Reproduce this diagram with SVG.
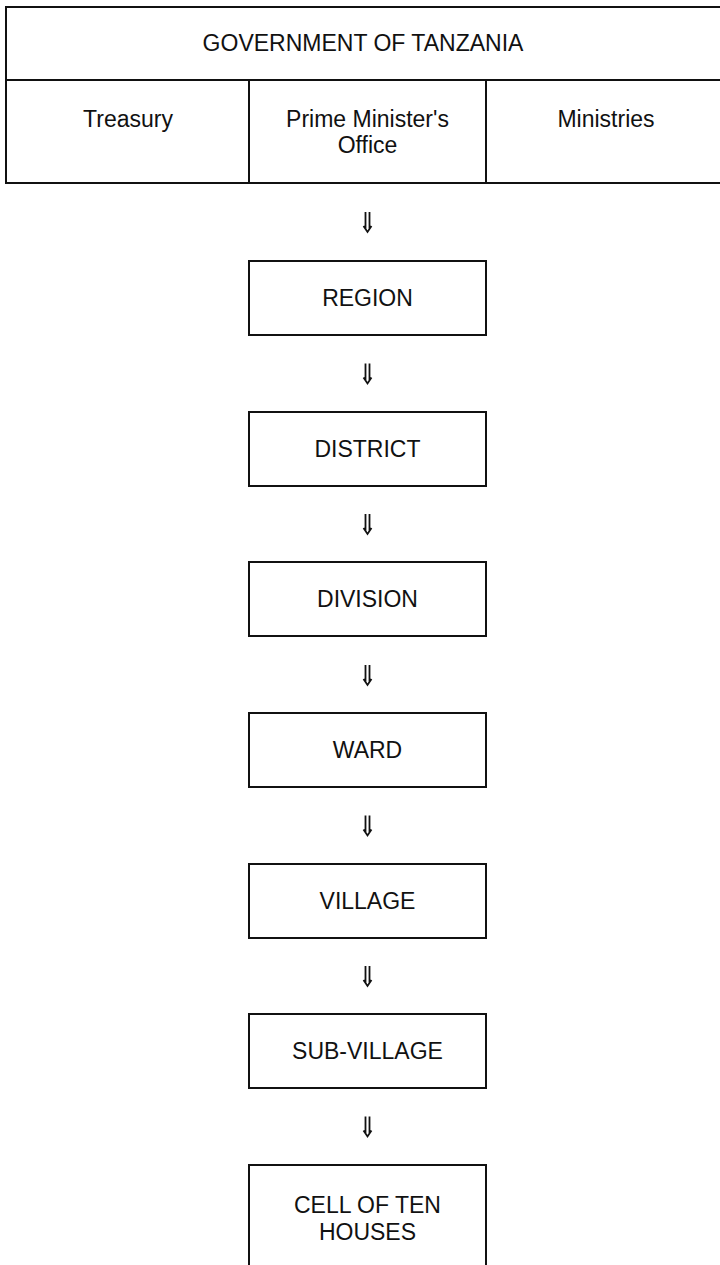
<svg xmlns="http://www.w3.org/2000/svg" width="720" height="1265" viewBox="0 0 720 1265">
<style>
.box{fill:#fff;stroke:#111;stroke-width:2}
.ln{fill:none;stroke:#111;stroke-width:2}
.t{font-family:"Liberation Sans",Arial,Helvetica,sans-serif;font-size:23px;fill:#111;text-anchor:middle}
.arr{fill:none;stroke:#111;stroke-width:1.8;stroke-linecap:butt;stroke-linejoin:miter}
</style>
<rect width="720" height="1265" fill="#fff"/>
<g id="government">
<rect class="box" x="6" y="7" width="730" height="176"/>
<line class="ln" x1="6" y1="80" x2="720" y2="80"/>
<line class="ln" x1="249" y1="80" x2="249" y2="183"/>
<line class="ln" x1="486" y1="80" x2="486" y2="183"/>
<text class="t" x="363" y="51">GOVERNMENT OF TANZANIA</text>
</g>
<g id="treasury"><text class="t" x="128" y="127">Treasury</text></g>
<g id="pmo"><text class="t" x="367.5" y="127">Prime Minister's</text><text class="t" x="367.5" y="153">Office</text></g>
<g id="ministries"><text class="t" x="606" y="127">Ministries</text></g>
<g id="region"><rect class="box" x="249" y="261" width="237" height="74"/><text class="t" x="367.5" y="306">REGION</text></g>
<g id="district"><rect class="box" x="249" y="412" width="237" height="74"/><text class="t" x="367.5" y="457">DISTRICT</text></g>
<g id="division"><rect class="box" x="249" y="562" width="237" height="74"/><text class="t" x="367.5" y="607">DIVISION</text></g>
<g id="ward"><rect class="box" x="249" y="713" width="237" height="74"/><text class="t" x="367.5" y="758">WARD</text></g>
<g id="village"><rect class="box" x="249" y="864" width="237" height="74"/><text class="t" x="367.5" y="909">VILLAGE</text></g>
<g id="subvillage"><rect class="box" x="249" y="1014" width="237" height="74"/><text class="t" x="367.5" y="1059">SUB-VILLAGE</text></g>
<g id="cell"><path class="ln" d="M249,1266 V1165 H486 V1266"/><text class="t" x="367.5" y="1213">CELL OF TEN</text><text class="t" x="367.5" y="1240">HOUSES</text></g>
<g id="connectors">
<path class="arr" d="M365.5,212 V229 M369.5,212 V229 M363.5,226 L367.5,232 L371.5,226"/>
<path class="arr" d="M365.5,363.5 V380.5 M369.5,363.5 V380.5 M363.5,377.5 L367.5,383.5 L371.5,377.5"/>
<path class="arr" d="M365.5,514 V531 M369.5,514 V531 M363.5,528 L367.5,534 L371.5,528"/>
<path class="arr" d="M365.5,665 V682 M369.5,665 V682 M363.5,679 L367.5,685 L371.5,679"/>
<path class="arr" d="M365.5,815.5 V832.5 M369.5,815.5 V832.5 M363.5,829.5 L367.5,835.5 L371.5,829.5"/>
<path class="arr" d="M365.5,966 V983 M369.5,966 V983 M363.5,980 L367.5,986 L371.5,980"/>
<path class="arr" d="M365.5,1116.5 V1133.5 M369.5,1116.5 V1133.5 M363.5,1130.5 L367.5,1136.5 L371.5,1130.5"/>
</g>
</svg>
